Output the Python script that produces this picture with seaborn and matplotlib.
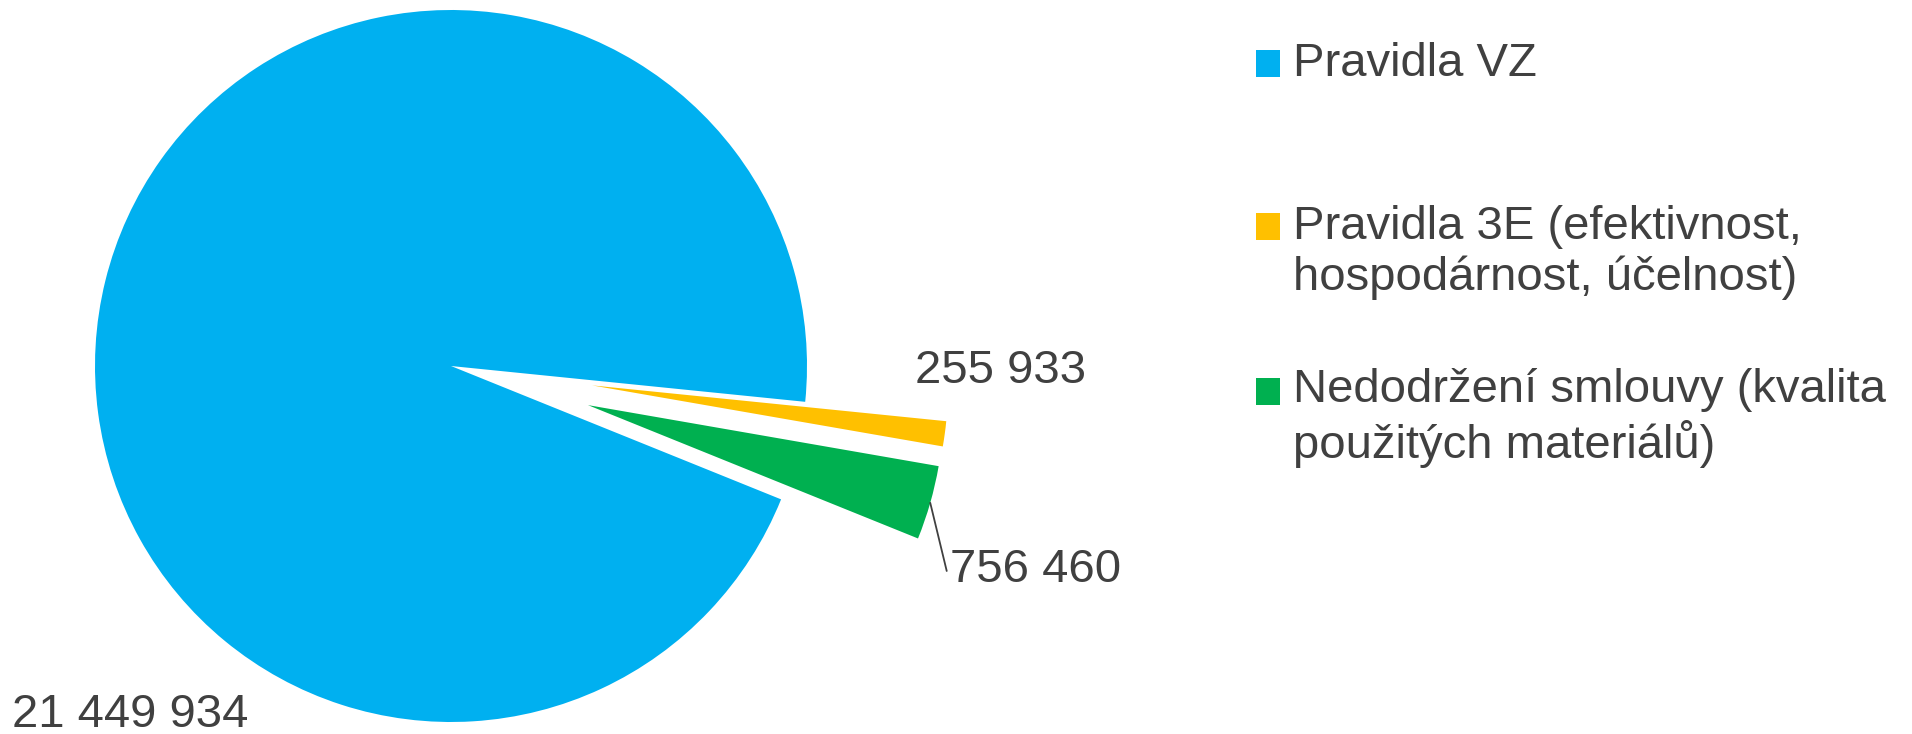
import numpy as np
import matplotlib
matplotlib.use("Agg")
import matplotlib.pyplot as plt
import seaborn as sns
from matplotlib.patches import Wedge, Rectangle
from matplotlib.legend_handler import HandlerPatch

categories = ["Pravidla VZ\n ",
              "Pravidla 3E (efektivnost,\nhospodárnost, účelnost)",
              "Nedodržení smlouvy (kvalita\npoužitých materiálů)"]
values = [21449934, 255933, 756460]
colors = ["#00B0F0", "#FFC000", "#00B050"]
explode = [0, 0.4, 0.4]

sns.set_style("white")
plt.rcParams['font.family'] = ['Liberation Sans', 'DejaVu Sans']
txt_color = "#404040"

W, H = 1912, 734
fig = plt.figure(figsize=(W / 100, H / 100), dpi=100)
ax = fig.add_axes([0, 0, 1, 1])

# pie centre / radius in pixels
cx, cy, r = 451, 366, 356

wedges, _ = ax.pie(values, colors=colors, explode=explode, startangle=-22,
                   counterclock=False, radius=1, wedgeprops=dict(linewidth=0))
ax.set_aspect('auto')
ax.set_xlim(-cx / r, (W - cx) / r)
ax.set_ylim(-(H - cy) / r, cy / r)
ax.axis('off')

def fmt(v):
    return f"{v:,}".replace(",", " ")

def px(x, y):
    return (x - cx) / r, (cy - y) / r

# value labels
ax.text(*px(12, 727), fmt(values[0]), fontsize=34, color=txt_color, ha='left', va='baseline')
ax.text(*px(915, 383), fmt(values[1]), fontsize=34, color=txt_color, ha='left', va='baseline')

g = wedges[2]
mid = np.deg2rad((g.theta1 + g.theta2) / 2)
edge = (g.center[0] + g.r * np.cos(mid), g.center[1] + g.r * np.sin(mid))
ax.annotate(fmt(values[2]), xy=edge, xytext=px(950, 582), fontsize=34, color=txt_color,
            ha='left', va='baseline',
            arrowprops=dict(arrowstyle='-', color=txt_color, lw=1.3,
                            shrinkA=0, shrinkB=0, relpos=(0, 0.17)))

def square(legend, orig_handle, xdescent, ydescent, width, height, fontsize):
    return Rectangle((-xdescent, -ydescent + 19), width, height)

ax.legend(wedges, categories, loc='upper left', bbox_to_anchor=(1256 / W, 1 - 42 / H),
          bbox_transform=fig.transFigure, frameon=False, fontsize=34,
          labelcolor=txt_color, handlelength=0.5, handleheight=0.5,
          handletextpad=0.28, labelspacing=1.44, borderpad=0, borderaxespad=0,
          handler_map={Wedge: HandlerPatch(patch_func=square)})
for t in ax.get_legend().get_texts():
    t.set_linespacing(1.2)

fig.savefig("out.png", dpi=100)
